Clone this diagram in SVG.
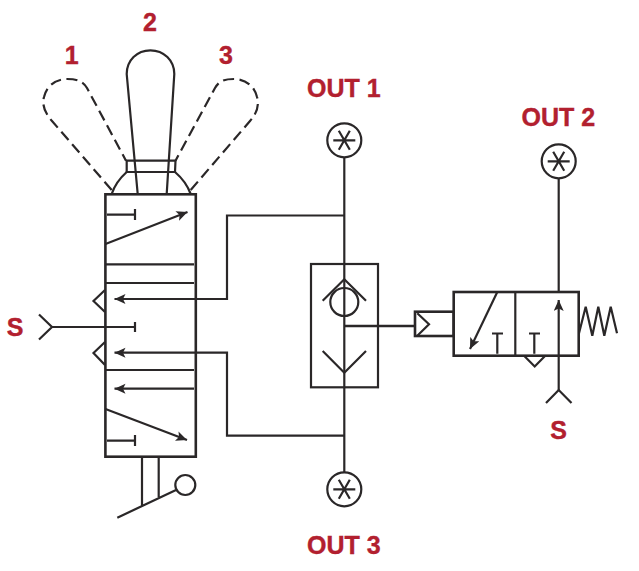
<svg xmlns="http://www.w3.org/2000/svg" width="639" height="571" viewBox="0 0 639 571">
<style>
.l{fill:none;stroke:#2a2728;stroke-width:2.2;stroke-linejoin:miter}
.b{fill:none;stroke:#2a2728;stroke-width:2.6}
.d{fill:none;stroke:#2a2728;stroke-width:2.2;stroke-dasharray:11 5.5}
.t{font-family:"Liberation Sans",Arial,sans-serif;font-weight:700;font-size:25px;fill:#b2202f;stroke:#b2202f;stroke-width:.4}
.m{text-anchor:middle}
</style>
<defs>
<marker id="a" markerUnits="userSpaceOnUse" markerWidth="13" markerHeight="11" refX="11" refY="5" orient="auto"><path d="M0 0L11 5L0 10L2.5 5Z" fill="#2a2728"/></marker>
</defs>
<rect width="639" height="571" fill="#fff"/>
<g id="connectors">
<path class="l" d="M344.3 157V472"/>
<path class="l" d="M344.3 215.5H227V299H114.5" marker-end="url(#a)"/>
<path class="l" d="M344.3 435.7H227V352.7H114.5" marker-end="url(#a)"/>
<path class="b" d="M344.3 326H415"/>
<path class="l" d="M558.7 178.5V292"/>
<path class="l" d="M52 327H135"/>
</g>
<g id="lever">
<path class="l" d="M150.4 50.3C137 50.3 126.7 60.5 126.7 74L137.7 194M150.4 50.3C163.8 50.3 174.3 60.5 174.3 74L166.7 194"/>
<path class="l" d="M126.7 160.7H175.5L175 172H126.7Z"/>
<path class="l" d="M111.7 194C115 184 120 178 126.7 172M190.7 194C187 184 182 178 175 172"/>
<path class="d" d="M111.7 190L52 121C44 112 42 104 44 97C47 84 58 79 67 79C77 79 83 81 87 88L126 160.7"/>
<path class="d" d="M190.7 190L250 121C258 112 259 104 257 97C254 84 243 79 234 79C224 79 219 81 215 88L175.5 160.7"/>
</g>
<g id="valve-left">
<rect class="b" x="105.4" y="194.3" width="90.4" height="262.4"/>
<path class="l" d="M107 214.7H135M135 209V220"/>
<path class="l" d="M105.5 244L187.5 212" marker-end="url(#a)"/>
<path class="l" d="M105.5 264.3H194M105.5 283H194M105.5 370H194"/>
<path class="l" d="M194 388.7H114.5" marker-end="url(#a)"/>
<path class="l" d="M105.5 409L187 440" marker-end="url(#a)"/>
<path class="l" d="M107 440.7H135M135 435V446"/>
<path class="l" d="M105 290L93.5 301L105 312M105 342L93.5 353L105 365"/>
<path class="l" d="M39 314.5L52 327L39 339.5M135 322V332"/>
<path class="l" d="M142 457V506M158.7 457V497M117.3 517.7L176 490"/>
<circle class="l" cx="185.3" cy="485" r="10"/>
</g>
<g id="shuttle-valve">
<rect class="l" x="311" y="264" width="67" height="123.3"/>
<path class="l" d="M322.7 300.7L344.3 279.3L366 300.7M322.7 351L344.3 372.7L366 351"/>
<circle class="l" cx="344.3" cy="302" r="14"/>
</g>
<g id="valve-right">
<rect class="b" x="453.7" y="292" width="125" height="63.7"/>
<path class="l" d="M515.3 292V355"/>
<rect class="b" x="415" y="311.7" width="38.7" height="24.3"/>
<path class="l" d="M417.3 313.3L429 324.3L417.3 335.7"/>
<path class="l" d="M497.3 292L470 349" marker-end="url(#a)"/>
<path class="l" d="M497.3 333.5V353.7M492 333.5H503M534.3 333.5V353.7M529 333.5H540"/>
<path class="l" d="M524.3 356L534.7 366.5L545 356"/>
<path class="l" d="M558.7 390V300" marker-end="url(#a)"/>
<path class="l" d="M546 403L558.7 390L571.5 403"/>
<path class="l" d="M579 333.3L585.7 306.7L592.3 335.7L598.3 306.7L604.3 335.7L610.7 306.7L617 333.3"/>
</g>
<g id="out1-port">
<circle class="l" cx="344.3" cy="140.3" r="17"/>
<path class="l" d="M333.3 140.3H355.3M338.8 130.8L349.8 149.8M349.8 130.8L338.8 149.8"/>
</g>
<g id="out2-port">
<circle class="l" cx="558.7" cy="161.3" r="17"/>
<path class="l" d="M547.7 161.3H569.7M553.2 151.8L564.2 170.8M564.2 151.8L553.2 170.8"/>
</g>
<g id="out3-port">
<circle class="l" cx="344.3" cy="489.3" r="17"/>
<path class="l" d="M333.3 489.3H355.3M338.8 479.8L349.8 498.8M349.8 479.8L338.8 498.8"/>
</g>
<g id="labels">
<text class="t m" x="71.7" y="64">1</text>
<text class="t m" x="150" y="30.5">2</text>
<text class="t m" x="226" y="64">3</text>
<text class="t" x="307" y="97">OUT 1</text>
<text class="t" x="521.5" y="125.5">OUT 2</text>
<text class="t" x="307" y="553.5">OUT 3</text>
<text class="t m" x="15" y="335.5">S</text>
<text class="t m" x="558.7" y="438.5">S</text>
</g>
</svg>
